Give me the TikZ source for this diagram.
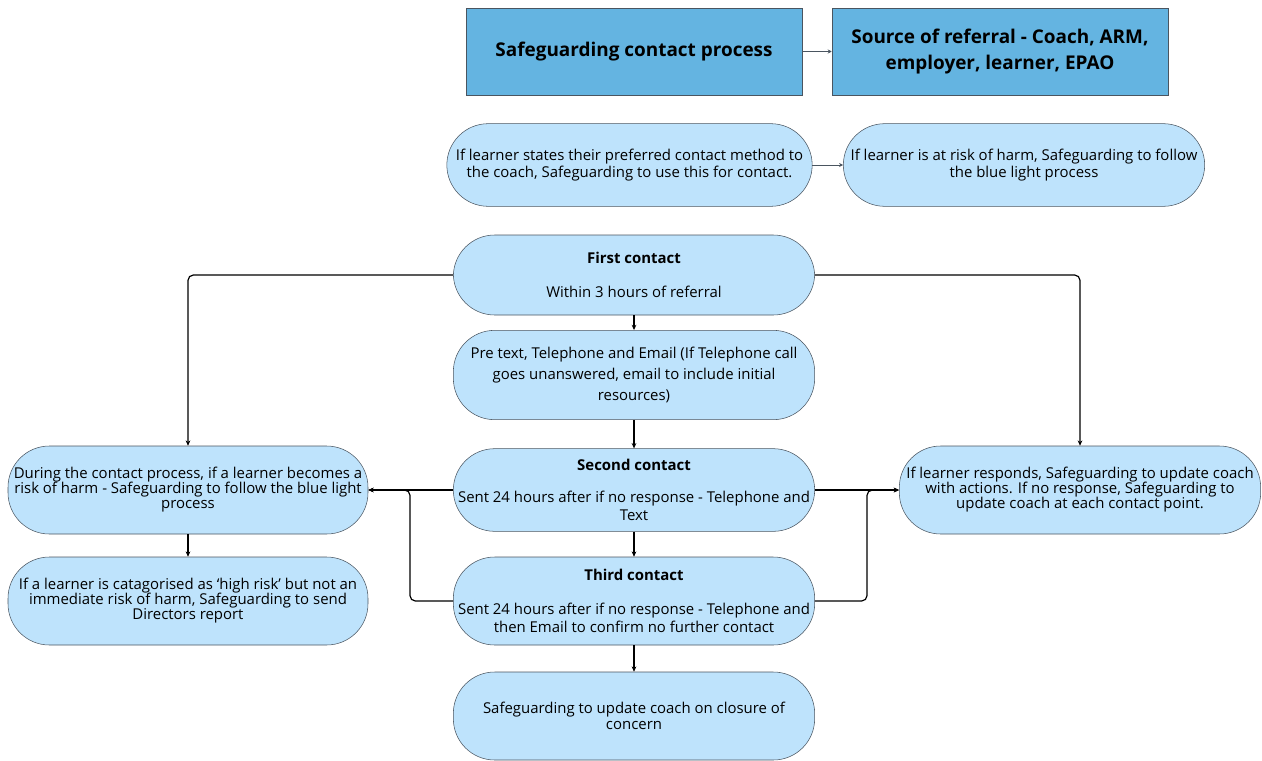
\documentclass[tikz,border=0pt]{standalone}
\usepackage{fontspec}
\setmainfont{Open Sans}
\usepackage{xcolor}
\usetikzlibrary{positioning, arrows.meta}

\definecolor{headblue}{HTML}{64B4E1}
\definecolor{pillblue}{HTML}{BEE3FC}
\definecolor{edgegray}{HTML}{4A5560}

\begin{document}
\begin{tikzpicture}[x=0.75pt,y=-0.75pt]
						\tikzstyle{head}=[rectangle,draw=edgegray,fill=headblue,minimum width=252pt,minimum height=65pt,align=center,font=\fontsize{14.2}{19.5}\selectfont\bfseries]
						\tikzstyle{pill}=[rectangle,rounded corners=31pt,draw=edgegray,fill=pillblue,minimum width=271pt,minimum height=62pt,align=center,inner sep=1pt,font=\fontsize{11.2}{12.5}\selectfont]
						\tikzstyle{tight}=[font=\fontsize{11.2}{11.3}\selectfont]
						\tikzstyle{link}=[black,line width=0.9pt,rounded corners=4pt,-{Stealth[length=4pt,width=3.5pt]}]
						\useasboundingbox (0,0) rectangle (1262,760);
						\node[head](title) at (634,51.5) {Safeguarding contact process};
						\node[head](src) at (1000,51.5) {Source of referral - Coach, ARM,\\employer, learner, EPAO};
						\node[pill,minimum width=274pt](pref) at (629.5,165) {If learner states their preferred contact method to\\the coach, Safeguarding to use this for contact.};
						\node[pill](risk) at (1024,165) {If learner is at risk of harm, Safeguarding to follow\\the blue light process};
						\node[pill,minimum height=60pt,font=\fontsize{11.2}{13.5}\selectfont](first) at (634,275) {\textbf{First contact}\\[12pt]Within 3 hours of referral};
						\node[pill,minimum height=67pt,font=\fontsize{11.2}{15.5}\selectfont](pre) at (634,375) {Pre text, Telephone and Email (If Telephone call\\goes unanswered, email to include initial\\resources)};
						\node[pill,font=\fontsize{11.2}{13.5}\selectfont](second) at (634,490) {\textbf{Second contact}\\[10.5pt]Sent 24 hours after if no response - Telephone and\\Text};
						\node[pill,minimum height=66pt,font=\fontsize{11.2}{13.5}\selectfont](third) at (634,601) {\textbf{Third contact}\\[12pt]Sent 24 hours after if no response - Telephone and\\then Email to confirm no further contact};
						\node[pill,minimum height=66pt,font=\fontsize{11.2}{12}\selectfont](close) at (634,716) {Safeguarding to update coach on closure of\\concern};
						\node[pill,tight,minimum width=270pt,minimum height=66pt](left) at (188,490) {During the contact process, if a learner becomes a\\risk of harm - Safeguarding to follow the blue light\\process};
						\node[pill,tight,minimum width=270pt,minimum height=66pt](leftlow) at (188,601) {If a learner is catagorised as `high risk' but not an\\immediate risk of harm, Safeguarding to send\\Directors report};
						\node[pill,tight,minimum height=66pt](right) at (1080,490) {If learner responds, Safeguarding to update coach\\with actions. If no response, Safeguarding to\\update coach at each contact point.};
						\coordinate(lj) at (410,490);
						\coordinate(rj) at (867,490);
						\draw[edgegray,line width=0.7pt,-{Stealth[length=3pt,width=3pt]}](title) -- (src);
						\draw[edgegray,line width=0.7pt,-{Stealth[length=3pt,width=3pt]}](pref) -- (risk);
						\draw[link](first.west) -| (left.north);
						\draw[link](first.east) -| (right.north);
						\draw[link](first) -- (pre);
						\draw[link](pre) -- (second);
						\draw[link](second) -- (third);
						\draw[link](third) -- (close);
						\draw[link](left) -- (leftlow);
						\draw[link](second.west) -- (left.east);
						\draw[link](third.west) -| (lj) -- (left.east);
						\draw[link](second.east) -- (right.west);
						\draw[link](third.east) -| (rj) -- (right.west);
					\end{tikzpicture}
\end{document}
